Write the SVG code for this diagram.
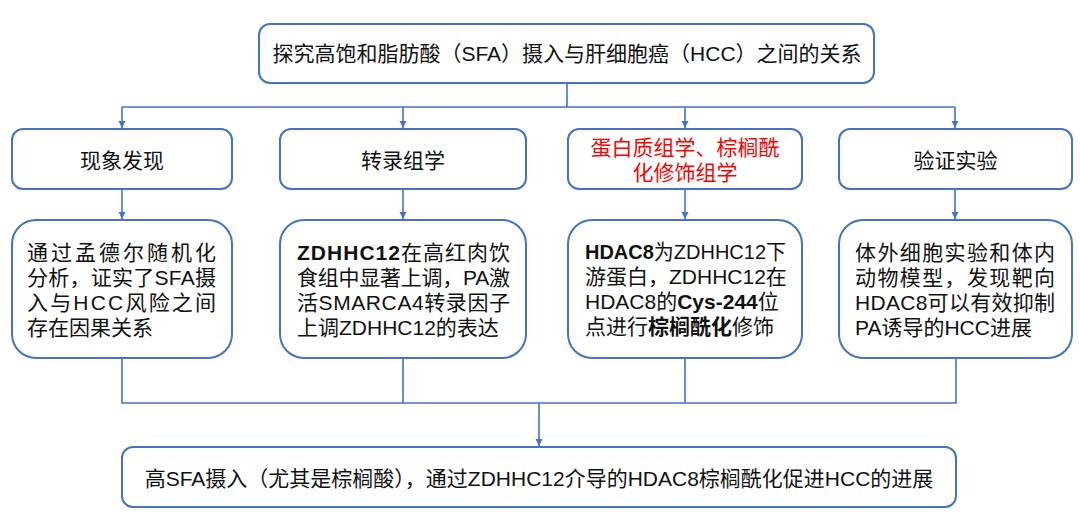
<svg xmlns="http://www.w3.org/2000/svg" width="1080" height="518" viewBox="0 0 1080 518">
<style>
.box{fill:#fff;stroke:#4472C4;stroke-width:2}
.ln{fill:none;stroke:#4472C4;stroke-width:1.6}
text{font-family:"Liberation Sans","Noto Sans CJK SC",sans-serif;font-size:21px;fill:#111}
.c{text-anchor:middle}
.red{fill:#FF0000}
.b{font-weight:bold}
</style>
<defs>
<marker id="ah" markerUnits="userSpaceOnUse" markerWidth="8" markerHeight="8" refX="7" refY="4" orient="auto">
<path d="M0,0.5 L7,4 L0,7.5 z" fill="#4472C4"/>
</marker>
</defs>
<rect width="1080" height="518" fill="#fff"/>
<g id="connectors">
<path class="ln" d="M567,83 V107 M122,107 H955"/>
<path class="ln" d="M122,107 V128" marker-end="url(#ah)"/>
<path class="ln" d="M403,107 V128" marker-end="url(#ah)"/>
<path class="ln" d="M685,107 V128" marker-end="url(#ah)"/>
<path class="ln" d="M955,107 V128" marker-end="url(#ah)"/>
<path class="ln" d="M122,189 V219" marker-end="url(#ah)"/>
<path class="ln" d="M403,189 V219" marker-end="url(#ah)"/>
<path class="ln" d="M685,189 V219" marker-end="url(#ah)"/>
<path class="ln" d="M955,189 V219" marker-end="url(#ah)"/>
<path class="ln" d="M122,358 V403 H956 V358 M403,358 V403 M685,358 V403"/>
<path class="ln" d="M539,403 V446" marker-end="url(#ah)"/>
</g>
<g id="top">
<rect class="box" x="259" y="24" width="615" height="59" rx="11"/>
<text class="c" x="567" y="60.5">探究高饱和脂肪酸（SFA）摄入与肝细胞癌（HCC）之间的关系</text>
</g>
<g id="n1">
<rect class="box" x="12" y="129" width="220" height="60" rx="11"/>
<text class="c" x="122" y="167.5">现象发现</text>
</g>
<g id="n2">
<rect class="box" x="280" y="129" width="246" height="60" rx="11"/>
<text class="c" x="403" y="167.5">转录组学</text>
</g>
<g id="n3">
<rect class="box" x="568" y="129" width="234" height="60" rx="11"/>
<text class="c red" x="685" y="154.5">蛋白质组学、棕榈酰</text>
<text class="c red" x="685" y="179.5">化修饰组学</text>
</g>
<g id="n4">
<rect class="box" x="839" y="129" width="233" height="60" rx="11"/>
<text class="c" x="955.5" y="167.5">验证实验</text>
</g>
<g id="d1">
<rect class="box" x="12" y="220" width="220" height="138" rx="24"/>
<text x="27" y="259.5" textLength="189" lengthAdjust="spacing">通过孟德尔随机化</text>
<text x="27" y="284.5" textLength="189" lengthAdjust="spacing">分析，证实了SFA摄</text>
<text x="27" y="309.5" textLength="189" lengthAdjust="spacing">入与HCC风险之间</text>
<text x="27" y="334.5">存在因果关系</text>
</g>
<g id="d2">
<rect class="box" x="280" y="220" width="246" height="138" rx="24"/>
<text x="297" y="259.5" textLength="213" lengthAdjust="spacing"><tspan class="b">ZDHHC12</tspan>在高红肉饮</text>
<text x="297" y="284.5" textLength="213" lengthAdjust="spacing">食组中显著上调，PA激</text>
<text x="297" y="309.5" textLength="213" lengthAdjust="spacing">活SMARCA4转录因子</text>
<text x="297" y="334.5">上调ZDHHC12的表达</text>
</g>
<g id="d3">
<rect class="box" x="568" y="220" width="234" height="138" rx="24"/>
<text x="585" y="258.5" textLength="201" lengthAdjust="spacingAndGlyphs"><tspan class="b">HDAC8</tspan>为ZDHHC12下</text>
<text x="585" y="283.5">游蛋白，ZDHHC12在</text>
<text x="585" y="308.5">HDAC8的<tspan class="b">Cys-244</tspan>位</text>
<text x="585" y="333.5">点进行<tspan class="b">棕榈酰化</tspan>修饰</text>
</g>
<g id="d4">
<rect class="box" x="839" y="220" width="233" height="138" rx="24"/>
<text x="855" y="259.5" textLength="200" lengthAdjust="spacing">体外细胞实验和体内</text>
<text x="855" y="284.5" textLength="200" lengthAdjust="spacing">动物模型，发现靶向</text>
<text x="855" y="309.5" textLength="200" lengthAdjust="spacing">HDAC8可以有效抑制</text>
<text x="855" y="334.5">PA诱导的HCC进展</text>
</g>
<g id="bottom">
<rect class="box" x="122" y="447" width="834" height="60" rx="11"/>
<text class="c" x="539" y="485.5">高SFA摄入（尤其是棕榈酸），通过ZDHHC12介导的HDAC8棕榈酰化促进HCC的进展</text>
</g>
</svg>
